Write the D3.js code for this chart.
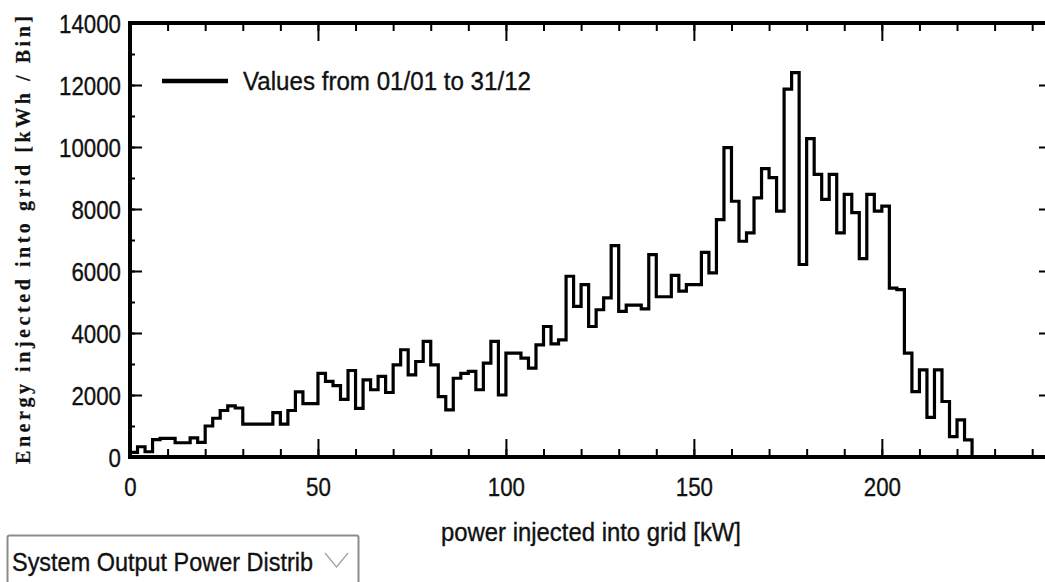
<!DOCTYPE html>
<html lang="en">
<head>
<meta charset="UTF-8">
<title>System Output Power Distribution</title>
<style>
  body { margin: 0; background: #fff; overflow: hidden; }
  svg text { font-family: "Liberation Sans Narrow", "Arial Narrow", "Liberation Sans", Arial, sans-serif; fill: #111; stroke: #111; stroke-width: 0.35px; }
  svg .ytitle { font-family: "Liberation Serif", "Times New Roman", serif; font-weight: bold; stroke-width: 0.2px; }
</style>
</head>
<body>
<svg></svg>
<script src="https://cdn.jsdelivr.net/npm/d3@7"></script>
<script>
  var width = 1045
  var height = 582

  // energy per 2 kW bin, from 0 kW up to 224 kW
  var binWidth = 2
  var energy = [
    150, 330, 170, 560, 600, 600, 460, 460, 620, 470,
    1000, 1250, 1500, 1650, 1580, 1060, 1060, 1060, 1060, 1430,
    1060, 1500, 2100, 1720, 1720, 2700, 2440, 2300, 1860, 2790,
    1570, 2490, 2170, 2600, 2080, 2970, 3460, 2650, 3080, 3730,
    2970, 1950, 1520, 2540, 2700, 2760, 2170, 3030, 3730, 2000,
    3350, 3350, 3190, 2870, 3620, 4210, 3650, 3780, 5830, 4860,
    5560, 4210, 4750, 5130, 6820, 4700, 4900, 4900, 4780, 6530,
    5170, 5170, 5860, 5350, 5560, 5560, 6600, 5940, 7660, 9980,
    8250, 6960, 7230, 8360, 9300, 9010, 7930, 11870, 12400, 6210,
    10270, 9120, 8310, 9120, 7230, 8470, 7880, 6400, 8470, 7930,
    8090, 5450, 5400, 3350, 2110, 2810, 1280, 2810, 1790, 660,
    1200, 550
  ]
  var binStarts = energy.map((_, i) => i * binWidth)

  var xMajorTicks = [0, 50, 100, 150, 200]
  var xMinorTicks = d3.range(0, 250, 10)
  var yMajorTicks = [0, 2000, 4000, 6000, 8000, 10000, 12000, 14000]
  var yMinorTicks = d3.range(0, 14001, 1000)

  var legendLabel = 'Values from 01/01 to 31/12'
  var xTitle = 'power injected into grid [kW]'
  var yTitle = 'Energy  injected  into  grid  [kWh / Bin]'
  var dropdownLabel = 'System Output Power Distrib'

  var plot = {left: 130, right: 1051, top: 23, bottom: 457}

  var svg = d3.select('svg')
    .attr('width', width)
    .attr('height', height)

  var x = d3.scaleLinear().domain([0, 245]).range([plot.left, plot.right])
  var y = d3.scaleLinear().domain([0, 14000]).range([plot.bottom, plot.top])

  svg.append('clipPath').attr('id', 'clip')
    .append('rect')
    .attr('x', plot.left).attr('y', plot.top)
    .attr('width', plot.right - plot.left).attr('height', plot.bottom - plot.top)

  // histogram outline as steps
  var pts = [[0, 0]]
  binStarts.forEach((b, i) => {
    pts.push([b, energy[i]])
    pts.push([b + binWidth, energy[i]])
  })
  pts.push([binStarts[binStarts.length - 1] + binWidth, 0])

  var line = d3.line().x(d => x(d[0])).y(d => y(d[1]))

  svg.append('path')
    .attr('clip-path', 'url(#clip)')
    .attr('d', line(pts))
    .attr('fill', 'none')
    .attr('stroke', '#000')
    .attr('stroke-width', 3.2)
    .attr('stroke-linejoin', 'miter')

  function styleAxis(g) {
    g.attr('color', '#000').attr('font-family', null)
    g.select('.domain').remove()
    g.selectAll('.tick line').attr('stroke-width', 2)
  }

  // minor ticks on all four sides
  svg.append('g').attr('transform', `translate(0,${plot.bottom})`)
    .call(d3.axisBottom(x).tickValues(xMinorTicks).tickSize(-8).tickFormat(''))
    .call(styleAxis)
  svg.append('g').attr('transform', `translate(0,${plot.top})`)
    .call(d3.axisTop(x).tickValues(xMinorTicks).tickSize(-8).tickFormat(''))
    .call(styleAxis)
  svg.append('g').attr('transform', `translate(${plot.left},0)`)
    .call(d3.axisLeft(y).tickValues(yMinorTicks).tickSize(-5).tickFormat(''))
    .call(styleAxis)
  svg.append('g').attr('transform', `translate(${plot.right},0)`)
    .call(d3.axisRight(y).tickValues(yMinorTicks).tickSize(-5).tickFormat(''))
    .call(styleAxis)

  // major ticks + labels
  var xAxis = svg.append('g').attr('transform', `translate(0,${plot.bottom})`)
    .call(d3.axisBottom(x).tickValues(xMajorTicks).tickSize(-18).tickPadding(21).tickFormat(d3.format('d')))
    .call(styleAxis)
  xAxis.selectAll('text')
    .attr('font-size', 26)
    .attr('textLength', d => String(d).length * 12.4)
    .attr('lengthAdjust', 'spacingAndGlyphs')

  svg.append('g').attr('transform', `translate(0,${plot.top})`)
    .call(d3.axisTop(x).tickValues(xMajorTicks).tickSize(-18).tickFormat(''))
    .call(styleAxis)

  var yAxis = svg.append('g').attr('transform', `translate(${plot.left},0)`)
    .call(d3.axisLeft(y).tickValues(yMajorTicks).tickSize(-12).tickPadding(9).tickFormat(d3.format('d')))
    .call(styleAxis)
  yAxis.selectAll('text')
    .attr('font-size', 26)
    .attr('dy', '0.35em')
    .attr('textLength', d => String(d).length * 12.4)
    .attr('lengthAdjust', 'spacingAndGlyphs')

  svg.append('g').attr('transform', `translate(${plot.right},0)`)
    .call(d3.axisRight(y).tickValues(yMajorTicks).tickSize(-12).tickFormat(''))
    .call(styleAxis)

  // frame
  svg.append('rect')
    .attr('x', plot.left).attr('y', plot.top)
    .attr('width', plot.right - plot.left).attr('height', plot.bottom - plot.top)
    .attr('fill', 'none')
    .attr('stroke', '#000')
    .attr('stroke-width', 4)

  // legend
  svg.append('line')
    .attr('x1', 162).attr('x2', 228).attr('y1', 81).attr('y2', 81)
    .attr('stroke', '#000').attr('stroke-width', 4.5)
  svg.append('text')
    .attr('x', 243).attr('y', 81).attr('dy', '0.35em')
    .attr('font-size', 26)
    .attr('textLength', 288).attr('lengthAdjust', 'spacingAndGlyphs')
    .text(legendLabel)

  // axis titles
  svg.append('text')
    .attr('x', 441).attr('y', 541)
    .attr('font-size', 25)
    .attr('textLength', 300).attr('lengthAdjust', 'spacingAndGlyphs')
    .text(xTitle)

  svg.append('text')
    .attr('class', 'ytitle')
    .attr('transform', 'translate(30,240) rotate(-90)')
    .attr('text-anchor', 'middle')
    .attr('font-size', 20)
    .attr('textLength', 448).attr('lengthAdjust', 'spacing')
    .text(yTitle)

  // dropdown box at the bottom
  var dd = svg.append('g')
  dd.append('rect')
    .attr('x', 7.5).attr('y', 535.5).attr('width', 351).attr('height', 60).attr('rx', 2)
    .attr('fill', '#fff').attr('stroke', '#8c8c8c').attr('stroke-width', 2)
  dd.append('text')
    .attr('x', 12).attr('y', 571)
    .attr('font-size', 26)
    .attr('stroke-width', 0.2)
    .attr('textLength', 301).attr('lengthAdjust', 'spacingAndGlyphs')
    .text(dropdownLabel)
  dd.append('path')
    .attr('d', 'M325,553L336.5,567L348,553')
    .attr('fill', 'none').attr('stroke', '#a0a0a0').attr('stroke-width', 1.2)
</script>
</body>
</html>
